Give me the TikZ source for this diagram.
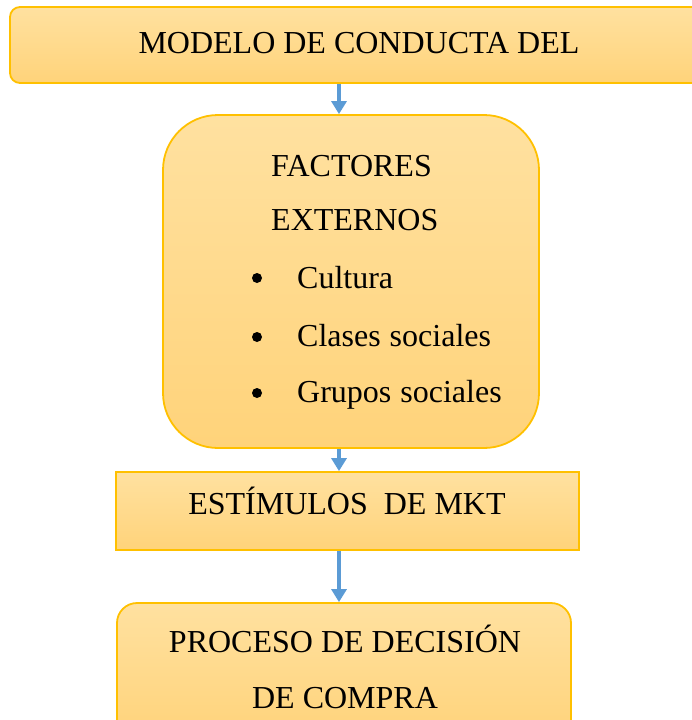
\documentclass[tikz,border=0pt]{standalone}
\usepackage{fontspec}
\setmainfont{Liberation Serif}
\usetikzlibrary{arrows.meta}

\definecolor{bordecaja}{RGB}{255,192,0}
\definecolor{claro}{RGB}{255,225,160}
\definecolor{oscuro}{RGB}{255,211,122}
\definecolor{azul}{RGB}{91,155,213}

\tikzset{
  caja/.style={draw=bordecaja, line width=1.8pt, top color=claro, bottom color=oscuro, inner sep=0pt},
  texto/.style={anchor=base, inner sep=0pt},
  flecha/.style={draw=azul, line width=3.5pt, -{Triangle[width=15pt,length=13pt]}}
}

\begin{document}
\begin{tikzpicture}[x=1pt,y=-1pt]
\useasboundingbox (0,0) rectangle (692,720);
\clip (0,0) rectangle (692,720);
\begin{scope}[font=\fontsize{32}{38}\selectfont]
% Cajas:
\node [caja, rounded corners=10pt, minimum width=700pt, minimum height=76pt] (modelo) at (360,45) {};
\node [caja, rounded corners=55pt, minimum width=376pt, minimum height=333pt] (factores) at (351,281.5) {};
\node [caja, minimum width=463pt, minimum height=78pt] (estimulos) at (347.5,511) {};
\node [caja, rounded corners=20pt, minimum width=454pt, minimum height=136pt] (proceso) at (344,671) {};

% Textos:
\node [texto] (tmodelo) at (359,53) {MODELO DE CONDUCTA DEL};
\node [texto, anchor=base west] (tfactores) at (271,176) {FACTORES};
\node [texto, anchor=base west] (texternos) at (271,230) {EXTERNOS};
\node [texto, anchor=base west] (tcultura) at (297,288) {Cultura};
\node [texto, anchor=base west] (tclases) at (297,346) {Clases\hspace{9pt}sociales};
\node [texto, anchor=base west] (tgrupos) at (297,402) {Grupos\hspace{9pt}sociales};
\node [texto] (testimulos) at (347,514) {ESTÍMULOS\ \ DE MKT};
\node [texto] (tproceso) at (345,652) {PROCESO DE DECISIÓN};
\node [texto] (tcompra) at (345,708) {DE COMPRA};

% Vinetas
\foreach \y in {278,337,393}
  \path [draw=none, fill=black] (257,\y) circle (5pt);

% Flechas
\coordinate (eje) at (339,0);
\draw [flecha] (modelo.south -| eje) -- (factores.north -| eje);
\draw [flecha] (factores.south -| eje) -- (estimulos.north -| eje);
\draw [flecha] (estimulos.south -| eje) -- (proceso.north -| eje);
\end{scope}
\end{tikzpicture}
\end{document}
